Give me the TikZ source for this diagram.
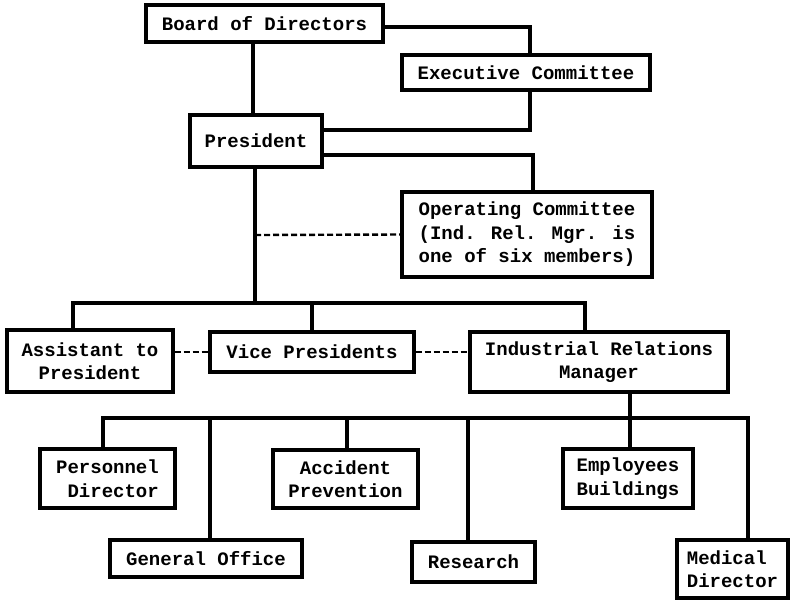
\documentclass[tikz,border=0pt]{standalone}
\usepackage{fontspec}
\newfontfamily\typew{Liberation Mono}
\begin{document}
\begin{tikzpicture}[x=1pt,y=-1pt,
  box/.style={draw,line width=3.2pt,rectangle,inner sep=0pt,align=center,
    font=\typew\bfseries\fontsize{19}{23.5}\selectfont},
  conn/.style={line width=3.2pt},
  dotline/.style={line width=2.4pt,dash pattern=on 6pt off 3pt}]
\useasboundingbox (0,0) rectangle (790,600);
\fill[white] (0,0) rectangle (790,600);
% nodes
\node[box,minimum width=237pt,minimum height=37pt] (board) at (264.5,23.5) {Board of Directors};
\node[box,minimum width=248pt,minimum height=35pt] (exec) at (526,72.5) {Executive Committee};
\node[box,minimum width=132pt,minimum height=52pt] (pres) at (256,141) {President};
\node[box,minimum width=250pt,minimum height=85pt] (oper) at (527,234.5) {Operating Committee\\(Ind. Rel. Mgr. is\\one of six members)};
\node[box,minimum width=166pt,minimum height=62pt] (asst) at (90,361) {Assistant to\\President};
\node[box,minimum width=204pt,minimum height=40pt] (vp) at (312,352) {Vice Presidents};
\node[box,minimum width=258pt,minimum height=60pt] (irm) at (599,362) {Industrial Relations\\Manager};
\node[box,minimum width=135pt,minimum height=59pt] (pers) at (107.5,478.5) {Personnel\\\ Director};
\node[box,minimum width=145pt,minimum height=58pt] (acc) at (345.5,479) {Accident\\Prevention};
\node[box,minimum width=130pt,minimum height=59pt] (emp) at (628,478.5) {Employees\\Buildings};
\node[box,minimum width=192pt,minimum height=37pt] (gen) at (206,558.5) {General Office};
\node[box,minimum width=123pt,minimum height=40pt] (res) at (473.5,562) {Research};
\node[box,minimum width=111pt,minimum height=58pt,align=left] (med) at (732.5,569) {Medical\\Director};
% coordinates
\coordinate (busA) at (255,303);
\coordinate (busB) at (630,418);
\coordinate (dj) at (255,235);
% top connectors
\draw[conn] (board.south -| 253,0) -- (pres.north -| 253,0);
\draw[conn] ([yshift=-3.5pt]board.east) -| (exec.north -| 530,0);
\draw[conn] (exec.south -| 530,0) |- ([yshift=11pt]pres.east);
\draw[conn] ([yshift=-14pt]pres.east) -| (oper.north -| 533,0);
\draw[conn] (pres.south -| busA) -- (busA);
\draw[dotline] (dj) -- (oper.west);
% middle bus
\draw[conn] (asst.north -| 73,0) |- (busA) -| (irm.north -| 585,0);
\draw[conn] (busA) -| (vp.north);
\draw[dotline] (asst.east |- vp.west) -- (vp.west);
\draw[dotline] (vp.east) -- (vp.east -| irm.west);
% lower bus
\draw[conn] (irm.south -| busB) -- (emp.north -| busB);
\draw[conn] (pers.north -| 103,0) |- (busB) -| (med.north -| 748,0);
\draw[conn] (busB) -| (gen.north -| 210,0);
\draw[conn] (busB) -| (acc.north -| 347,0);
\draw[conn] (busB) -| (res.north -| 468,0);
\end{tikzpicture}
\end{document}
